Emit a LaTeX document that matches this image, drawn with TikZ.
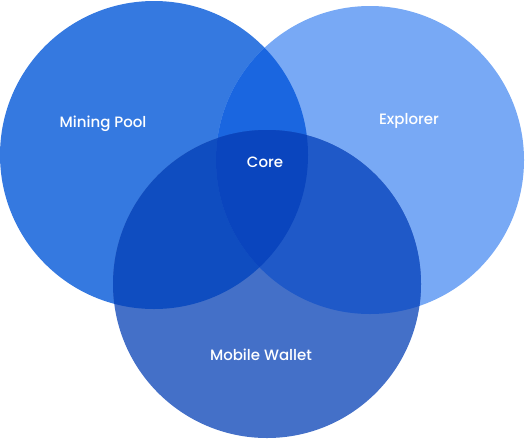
\documentclass[tikz,border=0pt]{standalone}
\usepackage{fontspec}
\setmainfont{Poppins}[UprightFont=* Medium]
\usepackage{xcolor}
\usepackage{tikz}
\definecolor{vnPool}{RGB}{53,121,224}
\definecolor{vnExplorer}{RGB}{120,169,245}
\definecolor{vnWallet}{RGB}{68,112,200}
\definecolor{vnPoolExp}{RGB}{26,102,224}
\definecolor{vnPoolWal}{RGB}{15,77,192}
\definecolor{vnExpWal}{RGB}{31,89,200}
\definecolor{vnCore}{RGB}{10,69,190}

\begin{document}
\begin{tikzpicture}[x=1pt, y=-1pt,
    setlabel/.style={text=white, font=\fontsize{15}{18}\selectfont, inner sep=0pt}
  ]
    \useasboundingbox (0,0) rectangle (526,439);
    \coordinate (pool) at (154,155);
    \coordinate (explorer) at (370,160);
    \coordinate (wallet) at (267,284);
    % single sets
    \fill[vnPool] (pool) circle[radius=154];
    \fill[vnExplorer] (explorer) circle[radius=154];
    \fill[vnWallet] (wallet) circle[radius=154];
    % pairwise overlaps
    \begin{scope}
      \clip (pool) circle[radius=154];
      \fill[vnPoolExp] (explorer) circle[radius=154];
      \fill[vnPoolWal] (wallet) circle[radius=154];
    \end{scope}
    \begin{scope}
      \clip (explorer) circle[radius=154];
      \fill[vnExpWal] (wallet) circle[radius=154];
      \clip (wallet) circle[radius=154];
      \fill[vnCore] (pool) circle[radius=154];
    \end{scope}
    % labels
    \node[setlabel] (poolname) at (103,124) {Mining Pool};
    \node[setlabel] (explorername) at (409,121) {Explorer};
    \node[setlabel] (corename) at (265,162) {Core};
    \node[setlabel] (walletname) at (261,355) {Mobile Wallet};
\end{tikzpicture}
\end{document}
